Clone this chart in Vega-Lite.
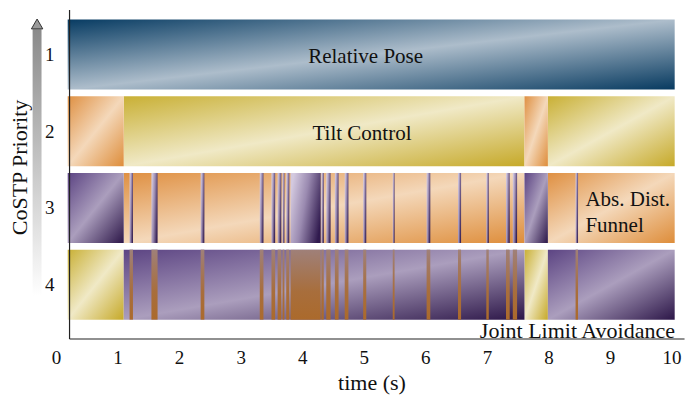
{
  "$schema": "https://vega.github.io/schema/vega-lite/v6.json",
  "width": 631,
  "height": 339,
  "autosize": "none",
  "padding": {"left": 56, "top": 5, "right": 13, "bottom": 64},
  "config": {
    "view": {"stroke": null},
    "font": "Liberation Serif",
    "text": {"font": "Liberation Serif"},
    "axis": {
      "domain": false, "ticks": false, "tickSize": 0, "grid": false,
      "labelFont": "Liberation Serif", "labelFontSize": 19, "labelColor": "#111",
      "titleFont": "Liberation Serif", "titleFontSize": 22, "titleFontWeight": "normal", "titleColor": "#111"
    }
  },
  "datasets": {
    "segments": [
      {"row": 1, "start": 0.19, "end": 10.05, "task": "Relative Pose"},
      {"row": 2, "start": 0.19, "end": 1.10, "task": "Abs. Dist. Funnel"},
      {"row": 2, "start": 1.10, "end": 7.61, "task": "Tilt Control"},
      {"row": 2, "start": 7.61, "end": 7.99, "task": "Abs. Dist. Funnel"},
      {"row": 2, "start": 7.99, "end": 10.05, "task": "Tilt Control"},
      {"row": 3, "start": 0.19, "end": 1.10, "task": "Joint Limit Avoidance"},
      {"row": 3, "start": 1.10, "end": 7.61, "task": "Abs. Dist. Funnel"},
      {"row": 3, "start": 7.61, "end": 7.99, "task": "Joint Limit Avoidance"},
      {"row": 3, "start": 7.99, "end": 10.05, "task": "Abs. Dist. Funnel"},
      {"row": 4, "start": 0.19, "end": 1.10, "task": "Tilt Control"},
      {"row": 4, "start": 1.10, "end": 7.61, "task": "Joint Limit Avoidance"},
      {"row": 4, "start": 7.61, "end": 7.99, "task": "Tilt Control"},
      {"row": 4, "start": 7.99, "end": 10.05, "task": "Joint Limit Avoidance"}
    ],
    "switches": [
      {"row": 3, "start": 1.195, "end": 1.25, "task": "Joint Limit Avoidance"},
      {"row": 3, "start": 1.55, "end": 1.65, "task": "Joint Limit Avoidance"},
      {"row": 3, "start": 2.35, "end": 2.41, "task": "Joint Limit Avoidance"},
      {"row": 3, "start": 3.31, "end": 3.37, "task": "Joint Limit Avoidance"},
      {"row": 3, "start": 3.50, "end": 3.56, "task": "Joint Limit Avoidance"},
      {"row": 3, "start": 3.60, "end": 3.66, "task": "Joint Limit Avoidance"},
      {"row": 3, "start": 3.68, "end": 3.71, "task": "Joint Limit Avoidance"},
      {"row": 3, "start": 3.74, "end": 3.79, "task": "Joint Limit Avoidance"},
      {"row": 3, "start": 3.81, "end": 4.30, "task": "Joint Limit Avoidance"},
      {"row": 3, "start": 4.31, "end": 4.35, "task": "Joint Limit Avoidance"},
      {"row": 3, "start": 4.39, "end": 4.46, "task": "Joint Limit Avoidance"},
      {"row": 3, "start": 4.53, "end": 4.59, "task": "Joint Limit Avoidance"},
      {"row": 3, "start": 4.69, "end": 4.75, "task": "Joint Limit Avoidance"},
      {"row": 3, "start": 4.99, "end": 5.04, "task": "Joint Limit Avoidance"},
      {"row": 3, "start": 5.47, "end": 5.50, "task": "Joint Limit Avoidance"},
      {"row": 3, "start": 6.02, "end": 6.08, "task": "Joint Limit Avoidance"},
      {"row": 3, "start": 6.53, "end": 6.58, "task": "Joint Limit Avoidance"},
      {"row": 3, "start": 6.99, "end": 7.03, "task": "Joint Limit Avoidance"},
      {"row": 3, "start": 7.31, "end": 7.37, "task": "Joint Limit Avoidance"},
      {"row": 3, "start": 7.42, "end": 7.49, "task": "Joint Limit Avoidance"},
      {"row": 3, "start": 8.44, "end": 8.48, "task": "Joint Limit Avoidance"},
      {"row": 4, "start": 1.195, "end": 1.25, "task": "Abs. Dist. Funnel"},
      {"row": 4, "start": 1.55, "end": 1.65, "task": "Abs. Dist. Funnel"},
      {"row": 4, "start": 2.35, "end": 2.41, "task": "Abs. Dist. Funnel"},
      {"row": 4, "start": 3.31, "end": 3.37, "task": "Abs. Dist. Funnel"},
      {"row": 4, "start": 3.50, "end": 3.56, "task": "Abs. Dist. Funnel"},
      {"row": 4, "start": 3.60, "end": 3.66, "task": "Abs. Dist. Funnel"},
      {"row": 4, "start": 3.68, "end": 3.71, "task": "Abs. Dist. Funnel"},
      {"row": 4, "start": 3.74, "end": 3.79, "task": "Abs. Dist. Funnel"},
      {"row": 4, "start": 3.81, "end": 4.30, "task": "Abs. Dist. Funnel"},
      {"row": 4, "start": 4.31, "end": 4.35, "task": "Abs. Dist. Funnel"},
      {"row": 4, "start": 4.39, "end": 4.46, "task": "Abs. Dist. Funnel"},
      {"row": 4, "start": 4.53, "end": 4.59, "task": "Abs. Dist. Funnel"},
      {"row": 4, "start": 4.69, "end": 4.75, "task": "Abs. Dist. Funnel"},
      {"row": 4, "start": 4.99, "end": 5.04, "task": "Abs. Dist. Funnel"},
      {"row": 4, "start": 5.47, "end": 5.50, "task": "Abs. Dist. Funnel"},
      {"row": 4, "start": 6.02, "end": 6.08, "task": "Abs. Dist. Funnel"},
      {"row": 4, "start": 6.53, "end": 6.58, "task": "Abs. Dist. Funnel"},
      {"row": 4, "start": 6.99, "end": 7.03, "task": "Abs. Dist. Funnel"},
      {"row": 4, "start": 7.31, "end": 7.37, "task": "Abs. Dist. Funnel"},
      {"row": 4, "start": 7.42, "end": 7.49, "task": "Abs. Dist. Funnel"},
      {"row": 4, "start": 8.44, "end": 8.48, "task": "Abs. Dist. Funnel"}
    ],
    "labels": [
      {"label": "Relative Pose", "start": 5.03, "row": 1.03},
      {"label": "Tilt Control", "start": 4.97, "row": 2.04}
    ],
    "bottomlabels": [
      {"label": "Joint Limit Avoidance", "start": 8.47, "row": 4.69}
    ],
    "sidelabels": [
      {"label": "Abs. Dist.\nFunnel", "start": 8.6, "row": 2.89}
    ]
  },
  "layer": [
    {
      "data": {"name": "segments"},
      "transform": [{"filter": "datum.task === 'Relative Pose'"}],
      "mark": {"type": "bar", "orient": "horizontal", "size": 70,
        "color": {"gradient": "linear", "x1": 0, "y1": 0, "x2": 1, "y2": 1,
          "stops": [{"offset": 0, "color": "#083c63"}, {"offset": 0.5, "color": "#adbdcb"}, {"offset": 1, "color": "#073a60"}]}},
      "encoding": {
        "x": {"field": "start", "type": "quantitative",
          "scale": {"domain": [0, 10.25], "nice": false, "zero": false},
          "axis": {"title": "time (s)", "values": [0,1,2,3,4,5,6,7,8,9,10], "format": "d", "labelPadding": 4, "titlePadding": 5, "labelFlush": false}},
        "x2": {"field": "end"},
        "y": {"field": "row", "type": "quantitative",
          "scale": {"domain": [0.418, 4.709], "reverse": true, "nice": false, "zero": false},
          "axis": {"title": "CoSTP Priority", "values": [1,2,3,4], "format": "d", "labelPadding": 2, "titlePadding": 13, "titleY": 162}}
      }
    },
    {
      "data": {"name": "segments"},
      "transform": [{"filter": "datum.task === 'Tilt Control'"}],
      "mark": {"type": "bar", "orient": "horizontal", "size": 70,
        "color": {"gradient": "linear", "x1": 0, "y1": 0, "x2": 1, "y2": 1,
          "stops": [{"offset": 0, "color": "#c9b035"}, {"offset": 0.5, "color": "#f0e9c6"}, {"offset": 1, "color": "#c6a928"}]}},
      "encoding": {"x": {"field": "start", "type": "quantitative"}, "x2": {"field": "end"}, "y": {"field": "row", "type": "quantitative"}}
    },
    {
      "data": {"name": "segments"},
      "transform": [{"filter": "datum.task === 'Abs. Dist. Funnel'"}],
      "mark": {"type": "bar", "orient": "horizontal", "size": 70,
        "color": {"gradient": "linear", "x1": 0, "y1": 0, "x2": 1, "y2": 1,
          "stops": [{"offset": 0, "color": "#df9042"}, {"offset": 0.5, "color": "#f4d8ba"}, {"offset": 1, "color": "#de8d3a"}]}},
      "encoding": {"x": {"field": "start", "type": "quantitative"}, "x2": {"field": "end"}, "y": {"field": "row", "type": "quantitative"}}
    },
    {
      "data": {"name": "segments"},
      "transform": [{"filter": "datum.task === 'Joint Limit Avoidance'"}],
      "mark": {"type": "bar", "orient": "horizontal", "size": 70,
        "color": {"gradient": "linear", "x1": 0, "y1": 0, "x2": 1, "y2": 1,
          "stops": [{"offset": 0, "color": "#5c4483"}, {"offset": 0.5, "color": "#ab9ebd"}, {"offset": 1, "color": "#2c1648"}]}},
      "encoding": {"x": {"field": "start", "type": "quantitative"}, "x2": {"field": "end"}, "y": {"field": "row", "type": "quantitative"}}
    },
    {
      "data": {"name": "switches"},
      "transform": [{"filter": "datum.task === 'Joint Limit Avoidance'"}],
      "mark": {"type": "bar", "orient": "horizontal", "size": 70,
        "color": {"gradient": "linear", "x1": 0, "y1": 0.3, "x2": 1, "y2": 0.7,
          "stops": [{"offset": 0, "color": "#d3c9df"}, {"offset": 0.45, "color": "#9a8ab0"}, {"offset": 1, "color": "#301a4e"}]}},
      "encoding": {"x": {"field": "start", "type": "quantitative"}, "x2": {"field": "end"}, "y": {"field": "row", "type": "quantitative"}}
    },
    {
      "data": {"name": "switches"},
      "transform": [{"filter": "datum.task === 'Abs. Dist. Funnel'"}],
      "mark": {"type": "bar", "orient": "horizontal", "size": 70,
        "color": {"gradient": "linear", "x1": 0, "y1": 0, "x2": 0, "y2": 1,
          "stops": [{"offset": 0, "color": "#9f8079"}, {"offset": 0.6, "color": "#a86e3c"}, {"offset": 1, "color": "#ab6a2c"}]}},
      "encoding": {"x": {"field": "start", "type": "quantitative"}, "x2": {"field": "end"}, "y": {"field": "row", "type": "quantitative"}}
    },
    {
      "data": {"name": "labels"},
      "mark": {"type": "text", "fontSize": 21, "font": "Liberation Serif, Times New Roman, serif", "color": "#111", "align": "center", "baseline": "middle"},
      "encoding": {"x": {"field": "start", "type": "quantitative"}, "y": {"field": "row", "type": "quantitative"}, "text": {"field": "label"}}
    },
    {
      "data": {"name": "bottomlabels"},
      "mark": {"type": "text", "fontSize": 22, "font": "Liberation Serif, Times New Roman, serif", "color": "#111", "align": "center", "baseline": "alphabetic"},
      "encoding": {"x": {"field": "start", "type": "quantitative"}, "y": {"field": "row", "type": "quantitative"}, "text": {"field": "label"}}
    },
    {
      "data": {"name": "sidelabels"},
      "mark": {"type": "text", "fontSize": 21, "font": "Liberation Serif, Times New Roman, serif", "color": "#111", "align": "left", "baseline": "middle", "lineBreak": "\n", "lineHeight": 26},
      "encoding": {"x": {"field": "start", "type": "quantitative"}, "y": {"field": "row", "type": "quantitative"}, "text": {"field": "label"}}
    },
    {
      "data": {"values": [{}]},
      "mark": {"type": "rule", "color": "#222", "strokeWidth": 1.2},
      "encoding": {"x": {"datum": 0.22}, "y": {"datum": 0.418}, "y2": {"datum": 4.709}}
    },
    {
      "data": {"values": [{}]},
      "mark": {"type": "rule", "color": "#222", "strokeWidth": 1.2},
      "encoding": {"x": {"datum": 0.22}, "x2": {"datum": 10.21}, "y": {"datum": 4.709}}
    },
    {
      "data": {"values": [{}]},
      "mark": {"type": "rect",
        "color": {"gradient": "linear", "x1": 0, "y1": 0, "x2": 0, "y2": 1,
          "stops": [{"offset": 0, "color": "#8a8a8a"}, {"offset": 1, "color": "#ffffff"}]}},
      "encoding": {"x": {"datum": -0.38}, "x2": {"datum": -0.235}, "y": {"datum": 0.67}, "y2": {"datum": 4.15}}
    },
    {
      "data": {"values": [{}]},
      "mark": {"type": "point", "shape": "triangle-up", "filled": true, "color": "#9a9a9a", "stroke": "#333", "strokeWidth": 1, "size": 130, "opacity": 1},
      "encoding": {"x": {"datum": -0.307}, "y": {"datum": 0.6}}
    }
  ]
}
